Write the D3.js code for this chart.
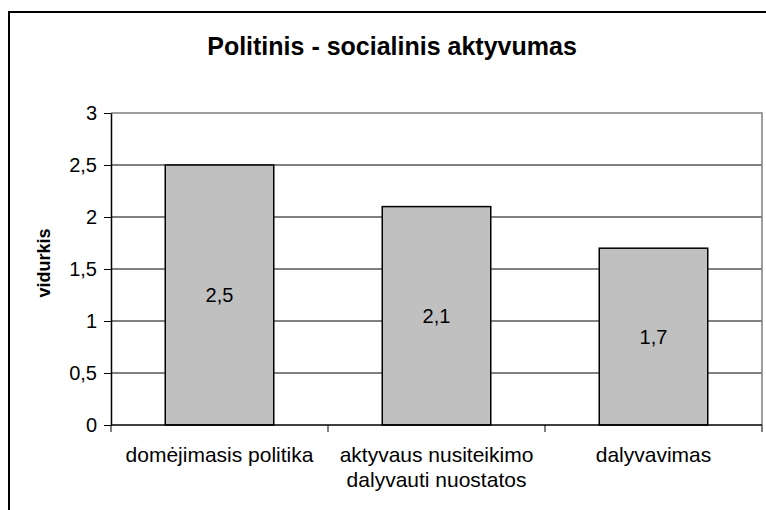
<!DOCTYPE html>
<html>
<head>
<meta charset="utf-8">
<script src="https://cdn.jsdelivr.net/npm/d3@7"></script>
<style>
  body { margin: 0; background: #fff; }
  svg text { font-family: "Liberation Sans", Arial, sans-serif; fill: #000; }
</style>
</head>
<body>
<div id="chart"></div>
<script>
// chart data
var categories = [["domėjimasis politika"], ["aktyvaus nusiteikimo", "dalyvauti nuostatos"], ["dalyvavimas"]];
var values = [2.5, 2.1, 1.7];
var valueLabels = ["2,5", "2,1", "1,7"];
var yTicks = [0, 0.5, 1, 1.5, 2, 2.5, 3];
var yTickLabels = ["0", "0,5", "1", "1,5", "2", "2,5", "3"];
var titleText = "Politinis - socialinis aktyvumas";
var yTitle = "vidurkis";

var W = 766, H = 510;
var margin = {top: 113, right: 4, bottom: 85, left: 111};
var width = W - margin.left - margin.right,
    height = H - margin.top - margin.bottom;

var svg = d3.select("#chart").append("svg")
    .attr("width", W)
    .attr("height", H);

// outer frame (runs past the right and bottom edges)
svg.append("rect")
    .attr("x", 9).attr("y", 12)
    .attr("width", 820).attr("height", 540)
    .attr("fill", "none")
    .attr("stroke", "#000")
    .attr("stroke-width", 2);

svg.append("text")
    .attr("x", 392).attr("y", 55)
    .attr("text-anchor", "middle")
    .style("font-size", "25px")
    .style("font-weight", "bold")
    .text(titleText);

var xScale = d3.scaleBand().domain(d3.range(values.length)).range([0, width]).paddingInner(0.5).paddingOuter(0.25);
var xBand = d3.scaleBand().domain(d3.range(values.length)).range([0, width]);
var yScale = d3.scaleLinear().domain([0, 3]).range([height, 0]);

var g = svg.append("g").attr("transform", "translate(" + margin.left + "," + margin.top + ")");

// gridlines
g.selectAll("line.grid")
  .data(yTicks.filter(function(d){ return d > 0 && d < 3; }))
  .enter().append("line")
    .attr("class", "grid")
    .attr("x1", 0).attr("x2", width)
    .attr("y1", function(d){ return yScale(d); })
    .attr("y2", function(d){ return yScale(d); })
    .attr("stroke", "#000")
    .attr("stroke-width", 1);

// plot area top and right border
g.append("path")
    .attr("d", "M0," + yScale(3) + "H" + width + "V" + height)
    .attr("fill", "none")
    .attr("stroke", "#808080")
    .attr("stroke-width", 1.5);

// bars
g.selectAll("rect.bar")
  .data(values)
  .enter().append("rect")
    .attr("class", "bar")
    .attr("x", function(d, i){ return xScale(i); })
    .attr("y", function(d){ return yScale(d); })
    .attr("width", xScale.bandwidth())
    .attr("height", function(d){ return height - yScale(d); })
    .attr("fill", "#c0c0c0")
    .attr("stroke", "#000")
    .attr("stroke-width", 1.5);

// value labels
g.selectAll("text.val")
  .data(values)
  .enter().append("text")
    .attr("class", "val")
    .attr("x", function(d, i){ return xScale(i) + xScale.bandwidth() / 2; })
    .attr("y", function(d){ return (yScale(d) + height) / 2; })
    .attr("dy", "0.35em")
    .attr("text-anchor", "middle")
    .style("font-size", "20px")
    .text(function(d, i){ return valueLabels[i]; });

// y axis
var yAxis = d3.axisLeft(yScale)
    .tickValues(yTicks)
    .tickFormat(function(d, i){ return yTickLabels[i]; })
    .tickSizeInner(7).tickSizeOuter(0).tickPadding(7);
var yAxisEl = g.append("g").call(yAxis);
yAxisEl.select(".domain").attr("stroke", "#000").attr("stroke-width", 1.5);
yAxisEl.selectAll(".tick line").attr("stroke", "#000");
yAxisEl.selectAll(".tick text").style("font-size", "20px").attr("fill", "#000");

// x axis with ticks at category boundaries
g.append("line")
    .attr("x1", 0).attr("x2", width)
    .attr("y1", height).attr("y2", height)
    .attr("stroke", "#000").attr("stroke-width", 1.5);
var bounds = d3.range(values.length + 1).map(function(i){ return i < values.length ? xBand(i) : width; });
g.selectAll("line.xtick")
  .data(bounds)
  .enter().append("line")
    .attr("class", "xtick")
    .attr("x1", function(d){ return d; }).attr("x2", function(d){ return d; })
    .attr("y1", height).attr("y2", height + 7)
    .attr("stroke", "#000");

// category labels
var catText = g.selectAll("text.cat")
  .data(categories)
  .enter().append("text")
    .attr("class", "cat")
    .attr("text-anchor", "middle")
    .style("font-size", "21px")
    .attr("transform", function(d, i){ return "translate(" + (xBand(i) + xBand.bandwidth() / 2) + "," + (height + 37) + ")"; });
catText.selectAll("tspan")
  .data(function(d){ return d; })
  .enter().append("tspan")
    .attr("x", 0)
    .attr("y", function(d, j){ return j * 25; })
    .text(function(d){ return d; });

// y title
svg.append("text")
    .attr("transform", "translate(50,263) rotate(-90)")
    .attr("text-anchor", "middle")
    .style("font-size", "18px")
    .style("font-weight", "bold")
    .text(yTitle);
</script>
</body>
</html>
